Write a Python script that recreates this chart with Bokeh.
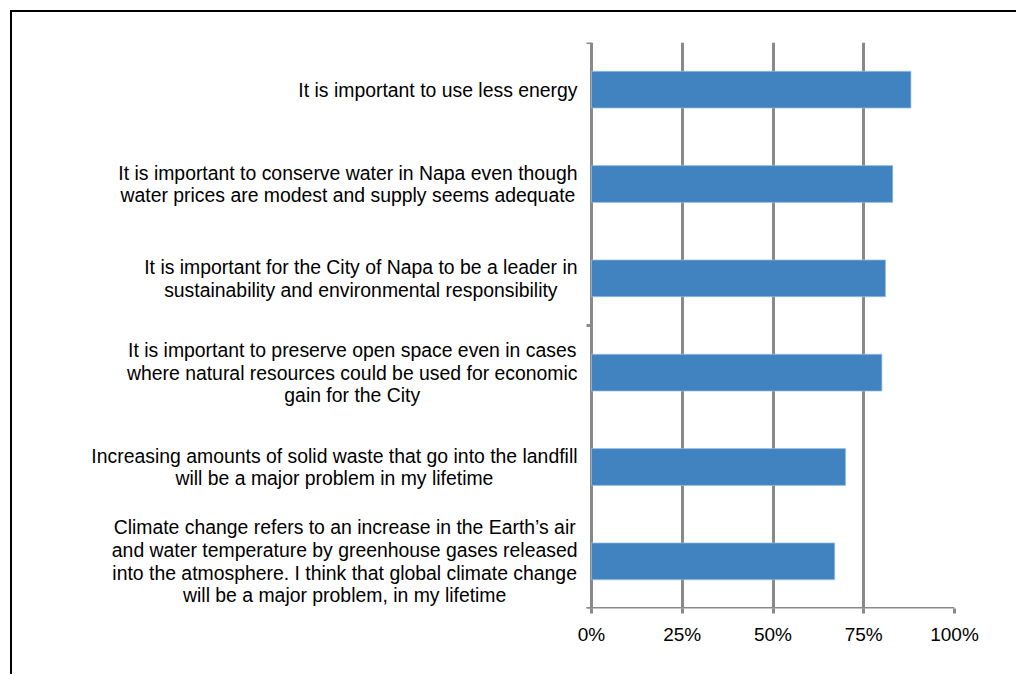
from bokeh.plotting import figure
from bokeh.models import FixedTicker, Range1d
from bokeh.core.properties import value
from bokeh.embed import file_html
from bokeh.resources import INLINE

# Data (top to bottom as in the chart)
statements = [
    "It is important to use less energy",
    "It is important to conserve water in Napa even though\nwater prices are modest and supply seems adequate",
    "It is important for the City of Napa to be a leader in\nsustainability and environmental responsibility",
    "It is important to preserve open space even in cases\nwhere natural resources could be used for economic\ngain for the City",
    "Increasing amounts of solid waste that go into the landfill\nwill be a major problem in my lifetime",
    "Climate change refers to an increase in the Earth\u2019s air\nand water temperature by greenhouse gases released\ninto the atmosphere. I think that global climate change\nwill be a major problem, in my lifetime",
]
values = [88, 83, 81, 80, 70, 67]
x_ticks = [0, 25, 50, 75, 100]
x_tick_labels = ["0%", "25%", "50%", "75%", "100%"]
cat_tick_marks = [0, 3, 6]

n = len(statements)
ypos = [n - i - 0.5 for i in range(n)]

GRAY = "#898989"
FONT = "Liberation Sans"

# layout (page pixels)
OFF = 12            # border + margin offset of the canvas
FRAME_L = 20        # left edge of the plotting frame (labels live inside it)
AXIS_X = 591        # where 0 % sits
AXIS_R = 954        # where 100 % sits
px_per_unit = (AXIS_R - AXIS_X) / 100.0
x_min = -(AXIS_X - FRAME_L) / px_per_unit
tick_len = 5 / px_per_unit
label_gap = 14 / px_per_unit

p = figure(width=1006, height=664, x_range=Range1d(x_min, 100), y_range=Range1d(0, n),
           output_backend="svg", toolbar_location=None,
           min_border_left=FRAME_L - OFF, min_border_right=1018 - AXIS_R,
           min_border_top=42 - OFF, min_border_bottom=68)
p.styles = {"margin-left": "10px", "margin-top": "10px",
            "border-top": "2px solid #000", "border-left": "2px solid #000"}
p.outline_line_color = None
p.yaxis.visible = False

# grid (the 0 % grid line doubles as the category axis line)
p.xgrid.ticker = FixedTicker(ticks=x_ticks)
p.xgrid.grid_line_color = GRAY
p.xgrid.grid_line_width = 3
p.ygrid.grid_line_color = None

p.hbar(y=ypos, left=0, right=values, height=0.39, fill_color="#4183C0",
       line_color="#9dc0e3", line_width=0.7)

# category-axis tick marks and value-axis line
p.segment(x0=-tick_len, x1=0, y0=cat_tick_marks, y1=cat_tick_marks, line_color=GRAY, line_width=3)
p.segment(x0=[-tick_len], x1=[100], y0=[0], y1=[0], line_color=GRAY, line_width=3)

# category labels: block right-aligned to the axis, lines centred within
p.text(x=[-label_gap] * n, y=ypos, text=statements, anchor="center_right", text_align="center",
       text_baseline="middle", text_font=value(FONT), text_font_size="19.4px",
       text_color="#000000", text_line_height=1.03)

# x axis
p.xaxis.ticker = FixedTicker(ticks=x_ticks)
p.xaxis.major_label_overrides = {t: l for t, l in zip(x_ticks, x_tick_labels)}
p.xaxis.axis_line_color = None
p.xaxis.major_tick_line_color = GRAY
p.xaxis.major_tick_line_width = 3
p.xaxis.major_tick_out = 5
p.xaxis.major_tick_in = 0
p.xaxis.minor_tick_line_color = None
p.xaxis.major_label_standoff = 10
p.xaxis.major_label_text_font = FONT
p.xaxis.major_label_text_font_size = "19px"
p.xaxis.major_label_text_color = "#000000"

open("out.html", "w").write(file_html(p, INLINE))
